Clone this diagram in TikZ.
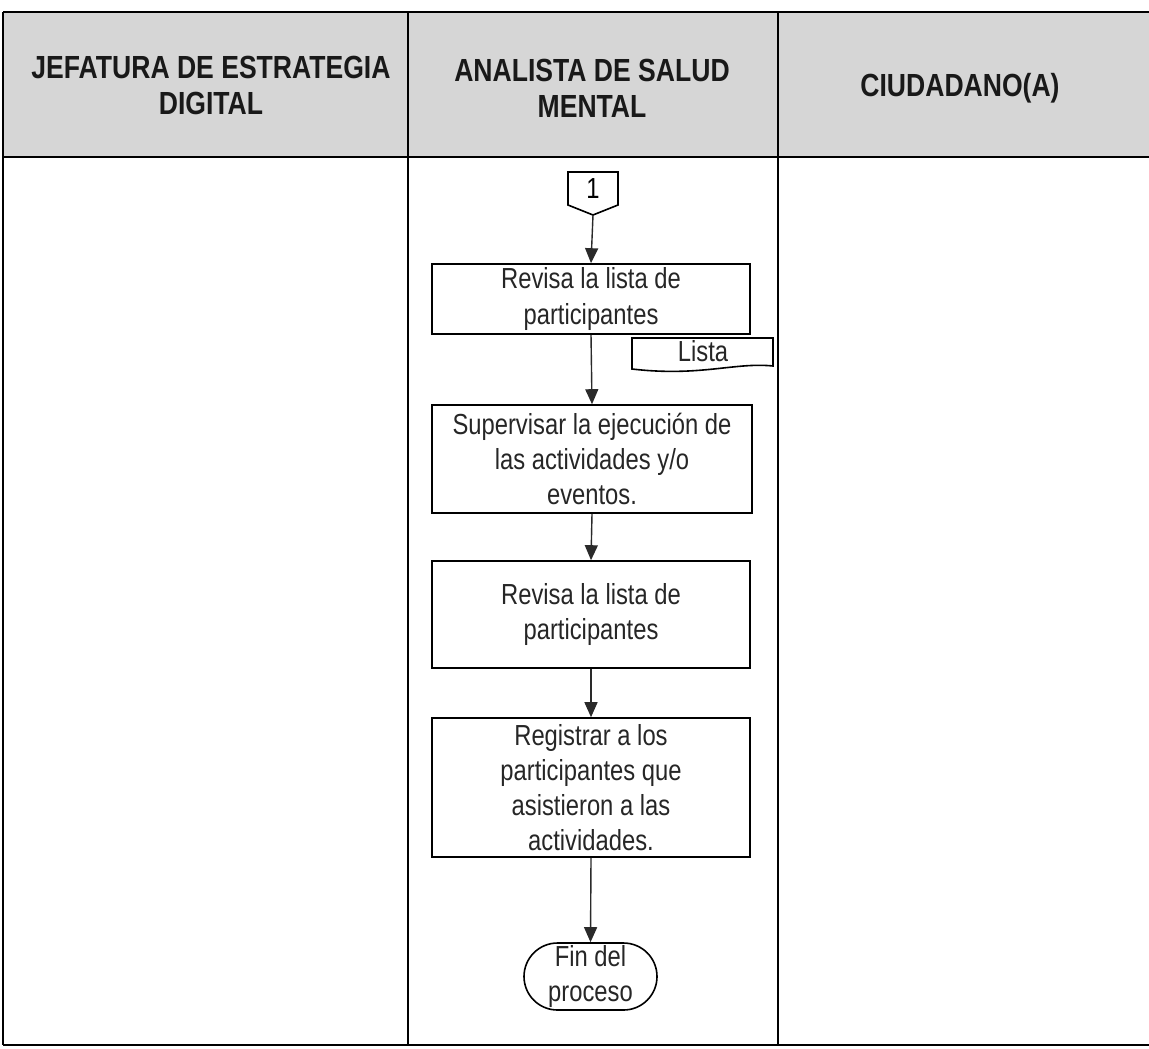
\documentclass[tikz,border=0pt]{standalone}
\usepackage{fontspec}
\setmainfont{Liberation Sans}
\newfontfamily\narrow[FakeStretch=0.82]{Liberation Sans}
\newfontfamily\hnarrow[FakeStretch=0.83]{Liberation Sans}
\usetikzlibrary{arrows.meta,shapes.misc}
\definecolor{hdrgray}{HTML}{D6D6D6}
\definecolor{linegray}{HTML}{2A2A2A}
\begin{document}
\begin{tikzpicture}[x=0.5pt,y=-0.5pt,
  frame/.style={draw=black,line width=0.9pt},
  hdrtext/.style={align=center,font=\hnarrow\bfseries\fontsize{16}{18}\selectfont,text=black!90},
  box/.style={draw=black,line width=0.8pt,fill=white,align=center,inner sep=0pt,
    font=\narrow\fontsize{14.5}{17.5}\selectfont,text=black!85},
  arr/.style={draw=linegray,line width=0.7pt,-{Triangle[length=7.5pt,width=6.5pt]}}]
\useasboundingbox (0,0) rectangle (1149,1048);
\fill[white] (0,0) rectangle (1149,1048);
\fill[hdrgray] (3,12) rectangle (1149,157);
% table lines
\draw[frame] (3,12) -- (1149,12);
\draw[frame] (3,157) -- (1149,157);
\draw[frame] (3,1045) -- (1149,1045);
\draw[frame] (3,12) -- (3,1045);
\draw[frame] (408,12) -- (408,1045);
\draw[frame] (778,12) -- (778,1045);
% headers
\node[hdrtext] (h1) at (211,85) {JEFATURA DE ESTRATEGIA\\DIGITAL};
\node[hdrtext] (h2) at (592,88) {ANALISTA DE SALUD\\MENTAL};
\node[hdrtext] (h3) at (960,88) {CIUDADANO(A)};
% off-page connector
\draw[line width=0.8pt] (568,172) -- (618,172) -- (618,205) -- (593,215) -- (568,205) -- cycle;
\node[font=\narrow\fontsize{14.5}{16}\selectfont] (c1) at (593,189) {1};
\coordinate (c1tip) at (593,215);
% process boxes
\node[box,minimum width=159pt,minimum height=35pt] (b1) at (591,299) {Revisa la lista de\\participantes};
\node[box,minimum width=160pt,minimum height=54pt] (b2) at (592,459) {Supervisar la ejecución de\\las actividades y/o\\eventos.};
\node[box,minimum width=159pt,minimum height=53.5pt] (b3) at (591,614.5) {Revisa la lista de\\participantes};
\node[box,minimum width=159pt,minimum height=69.5pt] (b4) at (591,787.5) {Registrar a los\\participantes que\\asistieron a las\\actividades.};
\node[box,rounded rectangle,minimum width=66.5pt,minimum height=33.5pt] (fin) at (590.5,976.5) {Fin del\\proceso};
% document shape
\draw[line width=0.8pt,fill=white] (632,338) -- (773,338) -- (773,366)
  .. controls (735,362) and (700,377) .. (632,369) -- cycle;
\node[font=\narrow\fontsize{14.5}{16}\selectfont,text=black!85] (lista) at (703,351) {Lista};
% connectors
\draw[arr] (c1tip) -- (b1.north);
\draw[arr] (b1.south) -- (b2.north);
\draw[arr] (b2.south) -- (b3.north);
\draw[arr] (b3.south) -- (b4.north);
\draw[arr] (b4.south) -- (fin.north);
\end{tikzpicture}
\end{document}
